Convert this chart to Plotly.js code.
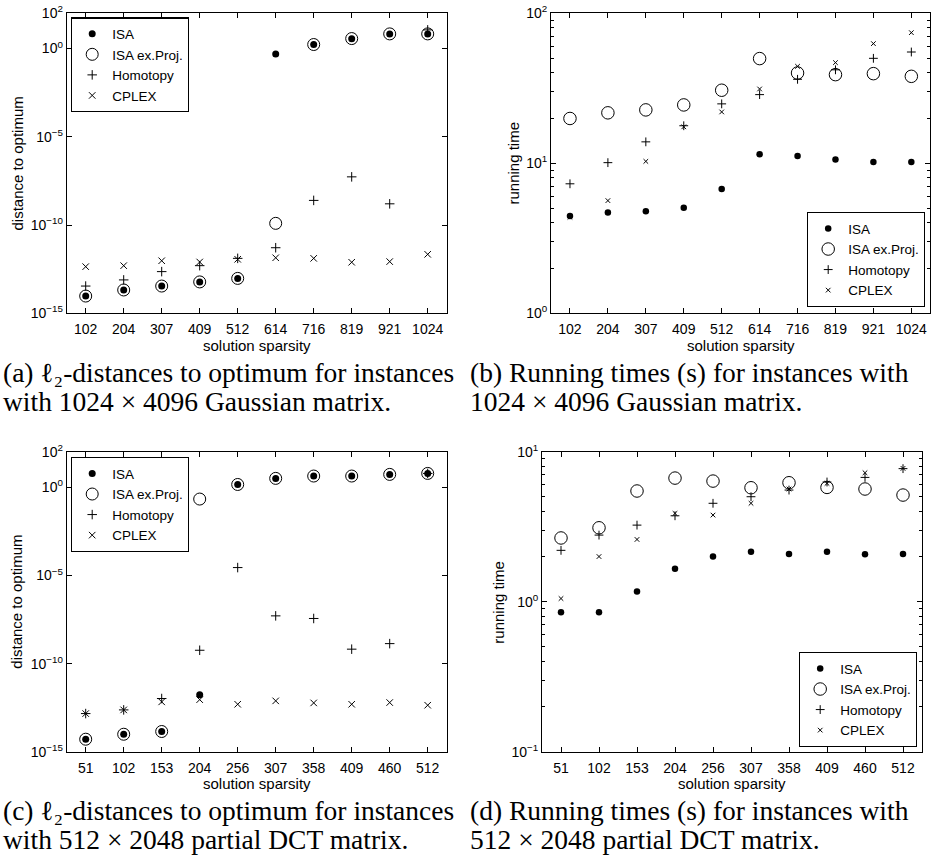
<!DOCTYPE html>
<html><head><meta charset="utf-8">
<script src="https://cdn.plot.ly/plotly-3.0.1.min.js"></script>
<style>html,body{margin:0;padding:0;background:#fff}#chart{width:933px;height:856px}</style>
</head><body><div id="chart"></div><script>
// categories
const sparsityGauss = ['102','204','307','409','512','614','716','819','921','1024'];
const sparsityDct = ['51','102','153','204','256','307','358','409','460','512'];
const seriesNames = ['ISA','ISA ex.Proj.','Homotopy','CPLEX'];

// (a) l2-distances, 1024x4096 Gaussian
const distGaussISA   = [9.5e-15, 2.1e-14, 3.5e-14, 6.0e-14, 9.5e-14, 0.5, 1.7, 3.6, 6.8, 6.8];
const distGaussProj  = [9.5e-15, 2.1e-14, 3.5e-14, 6.0e-14, 9.5e-14, 1.25e-10, 1.7, 3.7, 6.8, 6.8];
const distGaussHomo  = [3.5e-14, 7.8e-14, 2.3e-13, 5.0e-13, 1.3e-12, 5.2e-12, 2.5e-9, 5.4e-8, 1.6e-9, 11.5];
const distGaussCplex = [4.4e-13, 5.0e-13, 9.5e-13, 8.1e-13, 1.15e-12, 1.4e-12, 1.3e-12, 7.8e-13, 8.5e-13, 2.2e-12];

// (b) running times, 1024x4096 Gaussian
const timeGaussISA   = [4.45, 4.69, 4.79, 5.06, 6.74, 11.5, 11.2, 10.6, 10.2, 10.2];
const timeGaussProj  = [19.9, 21.7, 22.7, 24.5, 30.7, 49.9, 40.0, 39.0, 39.6, 38.0];
const timeGaussHomo  = [7.3, 10.1, 13.9, 17.8, 24.9, 28.7, 36.3, 42.0, 50.1, 55.2];
const timeGaussCplex = [4.37, 5.64, 10.3, 17.5, 22.0, 31.3, 44.3, 46.9, 62.8, 74.3];

// (c) l2-distances, 512x2048 partial DCT
const distDctISA   = [5.5e-15, 1.05e-14, 1.5e-14, 1.8e-12, 1.4, 3.1, 4.2, 4.2, 5.2, 5.9];
const distDctProj  = [5.5e-15, 1.05e-14, 1.5e-14, 0.21, 1.4, 3.1, 4.2, 4.2, 5.2, 5.9];
const distDctHomo  = [1.55e-13, 2.5e-13, 1.1e-12, 5.9e-10, 2.8e-5, 5.2e-8, 3.7e-8, 6.8e-10, 1.4e-9, 5.9];
const distDctCplex = [1.55e-13, 2.5e-13, 7.1e-13, 9.5e-13, 5.2e-13, 8.1e-13, 6.2e-13, 5.2e-13, 6.5e-13, 4.6e-13];

// (d) running times, 512x2048 partial DCT
const timeDctISA   = [0.849, 0.849, 1.17, 1.66, 2.0, 2.15, 2.08, 2.15, 2.07, 2.08];
const timeDctProj  = [2.66, 3.11, 5.47, 6.67, 6.37, 5.75, 6.21, 5.78, 5.64, 5.14];
const timeDctHomo  = [2.20, 2.78, 3.24, 3.74, 4.53, 5.01, 5.55, 6.28, 6.74, 7.71];
const timeDctCplex = [1.05, 2.0, 2.60, 3.88, 3.78, 4.53, 5.64, 6.15, 7.24, 7.74];

// tick labels
const distTickVals = [1e-15, 1e-10, 1e-5, 1, 100];
const distTickText = ['10<sup>\u221215</sup>','10<sup>\u221210</sup>','10<sup>\u22125</sup>','10<sup>0</sup>','10<sup>2</sup>'];
const timeGaussTickVals = [1, 10, 100];
const timeGaussTickText = ['10<sup>0</sup>','10<sup>1</sup>','10<sup>2</sup>'];
const timeDctTickVals = [0.1, 1, 10];
const timeDctTickText = ['10<sup>\u22121</sup>','10<sup>0</sup>','10<sup>1</sup>'];

const SANS = 'Liberation Sans, Arial, sans-serif';
const SERIF = 'Liberation Serif, Times New Roman, serif';
const W = 933, H = 856;
const px = v => v / W;
const py = v => 1 - v / H;

function styles(sz) {
  return [
    {symbol: 'circle', size: sz.dot, color: 'black', line: {width: 0}},
    {symbol: 'circle-open', size: sz.circ, color: 'black', line: {width: 1, color: 'black'}},
    {symbol: 'cross-thin-open', size: sz.plus, color: 'black', line: {width: 1, color: 'black'}},
    {symbol: 'x-thin-open', size: sz.x, color: 'black', line: {width: 1, color: 'black'}}
  ];
}
function makeTraces(xs, ysList, n, legendId, sz) {
  const st = styles(sz);
  return ysList.map((ys, i) => ({
    type: 'scatter', mode: 'markers', x: xs, y: ys, name: seriesNames[i],
    xaxis: 'x' + (n === 1 ? '' : n), yaxis: 'y' + (n === 1 ? '' : n),
    legend: legendId, marker: st[i], hoverinfo: 'skip', cliponaxis: false
  }));
}
const bigSz = {dot: 7, circ: 12, plus: 6.8, x: 6.5};
const smallSz = {dot: 6.5, circ: 12.5, plus: 6.3, x: 4.6};

const traces = [].concat(
  makeTraces(sparsityGauss, [distGaussISA, distGaussProj, distGaussHomo, distGaussCplex], 1, 'legend', bigSz),
  makeTraces(sparsityGauss, [timeGaussISA, timeGaussProj, timeGaussHomo, timeGaussCplex], 2, 'legend2', smallSz),
  makeTraces(sparsityDct, [distDctISA, distDctProj, distDctHomo, distDctCplex], 3, 'legend3', bigSz),
  makeTraces(sparsityDct, [timeDctISA, timeDctProj, timeDctHomo, timeDctCplex], 4, 'legend4', smallSz)
);

function xAxis(domain, anchor) {
  return {domain: domain, anchor: anchor, type: 'category', range: [-0.5, 9.5],
    showline: true, linecolor: 'black', linewidth: 1, mirror: 'allticks',
    ticks: 'inside', ticklen: 5, tickcolor: 'black', showgrid: false, zeroline: false,
    ticklabelstandoff: 3,
    tickfont: {family: SANS, size: 14, color: 'black'}, fixedrange: true};
}
function yAxis(domain, anchor, range, tv, tt, minorVals) {
  const a = {domain: domain, anchor: anchor, type: 'log', range: range,
    tickmode: 'array', tickvals: tv, ticktext: tt,
    showline: true, linecolor: 'black', linewidth: 1, mirror: 'allticks',
    ticks: 'inside', ticklen: 5, tickcolor: 'black', showgrid: false, zeroline: false,
    tickfont: {family: SANS, size: 14, color: 'black'}, fixedrange: true};
  if (minorVals) a.minor = {tickmode: 'array', tickvals: minorVals, ticks: 'inside', ticklen: 3, tickcolor: 'black', showgrid: false};
  return a;
}
const minorGauss = [2,3,4,5,6,7,8,9,20,30,40,50,60,70,80,90];
const minorDct = [0.2,0.3,0.4,0.5,0.6,0.7,0.8,0.9,2,3,4,5,6,7,8,9];

const yTop = [py(313.3), py(13.3)];
const yBot = [py(752.3), py(451.7)];
function legendBox(x, y, xa, ya) {
  return {x: x, y: y, xanchor: xa, yanchor: ya, xref: 'paper', yref: 'paper',
    bgcolor: 'white', bordercolor: 'black', borderwidth: 1.2,
    font: {family: SANS, size: 13.5, color: 'black'}, tracegroupgap: 0, itemclick: false};
}

const annotations = [];
function ann(text, x, y, opts) {
  annotations.push(Object.assign({text: text, x: px(x), y: py(y), xref: 'paper', yref: 'paper',
    xanchor: 'center', yanchor: 'middle',
    showarrow: false, font: {family: SANS, size: 15, color: 'black'}}, opts || {}));
}
// axis titles
ann('distance to optimum', 17, 163.5, {textangle: -90});
ann('running time', 513, 163.5, {textangle: -90});
ann('distance to optimum', 17, 601.7, {textangle: -90});
ann('running time', 499, 601.7, {textangle: -90});
ann('solution sparsity', 256.7, 345);
ann('solution sparsity', 740.5, 345);
ann('solution sparsity', 256.7, 783);
ann('solution sparsity', 732, 783);
// captions
const capFont = {family: SERIF, size: 27.5, color: 'black'};
ann('(a) \u2113\u2082-distances to optimum for instances', 1, 372, {xanchor: 'left', font: capFont});
ann('with 1024 \u00d7 4096 Gaussian matrix.', 1, 401, {xanchor: 'left', font: capFont});
ann('(b) Running times (s) for instances with', 468, 372, {xanchor: 'left', font: capFont});
ann('1024 \u00d7 4096 Gaussian matrix.', 468, 401, {xanchor: 'left', font: capFont});
ann('(c) \u2113\u2082-distances to optimum for instances', 1, 810, {xanchor: 'left', font: capFont});
ann('with 512 \u00d7 2048 partial DCT matrix.', 1, 839, {xanchor: 'left', font: capFont});
ann('(d) Running times (s) for instances with', 468, 810, {xanchor: 'left', font: capFont});
ann('512 \u00d7 2048 partial DCT matrix.', 468, 839, {xanchor: 'left', font: capFont});

const layout = {
  width: W, height: H, margin: {l: 0, r: 0, t: 0, b: 0},
  paper_bgcolor: 'white', plot_bgcolor: 'white', showlegend: true,
  font: {family: SANS, color: 'black'},
  xaxis: xAxis([px(66.7), px(446.7)], 'y'),
  yaxis: yAxis(yTop, 'x', [-15, 2], distTickVals, distTickText),
  xaxis2: xAxis([px(551), px(930.3)], 'y2'),
  yaxis2: yAxis(yTop, 'x2', [0, 2], timeGaussTickVals, timeGaussTickText, minorGauss),
  xaxis3: xAxis([px(66.7), px(446.7)], 'y3'),
  yaxis3: yAxis(yBot, 'x3', [-15, 2], distTickVals, distTickText),
  xaxis4: xAxis([px(542), px(922)], 'y4'),
  yaxis4: yAxis([py(751.7), py(451.7)], 'x4', [-1, 1], timeDctTickVals, timeDctTickText, minorDct),
  legend: legendBox(px(71), py(17.3), 'left', 'top'),
  legend2: legendBox(px(925), py(307), 'right', 'bottom'),
  legend3: legendBox(px(71), py(457), 'left', 'top'),
  legend4: legendBox(px(917), py(747), 'right', 'bottom'),
  annotations: annotations
};
Plotly.newPlot('chart', traces, layout, {staticPlot: true, displayModeBar: false});
</script></body></html>
